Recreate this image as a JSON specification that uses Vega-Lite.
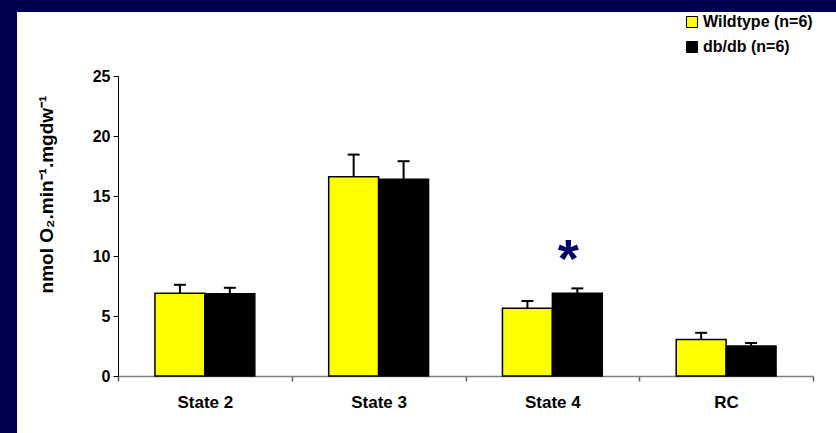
{
  "$schema": "https://vega.github.io/schema/vega-lite/v6.json",
  "width": 819,
  "height": 421,
  "autosize": {"type": "none"},
  "padding": {"left": 17, "top": 12, "right": 0, "bottom": 0},
  "background": "#000050",
  "config": {"view": {"fill": "white", "stroke": null}, "font": "Liberation Sans"},
  "data": {"values": [
    {"cat": "State 2", "group": "Wildtype (n=6)", "mean": 6.9, "upper": 7.6},
    {"cat": "State 2", "group": "db/db (n=6)", "mean": 6.85, "upper": 7.35},
    {"cat": "State 3", "group": "Wildtype (n=6)", "mean": 16.6, "upper": 18.45},
    {"cat": "State 3", "group": "db/db (n=6)", "mean": 16.4, "upper": 17.9},
    {"cat": "State 4", "group": "Wildtype (n=6)", "mean": 5.65, "upper": 6.25},
    {"cat": "State 4", "group": "db/db (n=6)", "mean": 6.9, "upper": 7.3},
    {"cat": "RC", "group": "Wildtype (n=6)", "mean": 3.05, "upper": 3.6},
    {"cat": "RC", "group": "db/db (n=6)", "mean": 2.5, "upper": 2.75}
  ]},
  "encoding": {
    "x": {
      "field": "cat", "type": "nominal",
      "sort": ["State 2", "State 3", "State 4", "RC"],
      "scale": {"range": [101, 796], "paddingInner": 0, "paddingOuter": 0},
      "axis": {
        "title": null, "labelAngle": 0, "labelFont": "Liberation Sans", "labelFontWeight": "bold",
        "labelFontSize": 17, "labelColor": "black", "domainColor": "#808080", "domainWidth": 1.5,
        "tickColor": "#606060", "tickSize": 5, "tickWidth": 1.5, "tickBand": "extent", "labelPadding": 13,
        "offset": -57, "grid": false
      }
    },
    "xOffset": {
      "field": "group", "type": "nominal",
      "sort": ["Wildtype (n=6)", "db/db (n=6)"],
      "scale": {"paddingInner": 0, "paddingOuter": 0.74}
    }
  },
  "layer": [
    {
      "mark": {"type": "bar", "stroke": "black", "strokeWidth": 1.5},
      "encoding": {
        "y": {
          "field": "mean", "type": "quantitative",
          "scale": {"domain": [0, 25], "range": [364, 64], "nice": false, "zero": true},
          "axis": {
            "title": "nmol O₂.min⁻¹.mgdw⁻¹", "titleFont": "Liberation Sans", "titleFontSize": 19,
            "titleFontWeight": "bold", "titleColor": "black", "titleX": -72, "titleY": 182,
            "titleAngle": -90, "titleAlign": "center", "titleBaseline": "middle",
            "values": [0, 5, 10, 15, 20, 25], "labelFont": "Liberation Sans", "labelFontSize": 16,
            "labelFontWeight": "bold", "labelColor": "black", "domainColor": "black", "domainWidth": 1,
            "tickColor": "black", "tickSize": 5, "labelPadding": 3, "offset": -101, "grid": false
          }
        },
        "color": {
          "field": "group", "type": "nominal",
          "scale": {"domain": ["Wildtype (n=6)", "db/db (n=6)"], "range": ["#FFFF00", "#000000"]},
          "legend": {
            "orient": "none", "legendX": 667, "legendY": 2, "title": null,
            "symbolType": "square", "symbolSize": 121, "symbolStrokeColor": "black",
            "symbolStrokeWidth": 1, "symbolOpacity": 1, "labelFont": "Liberation Sans", "labelFontSize": 16,
            "labelFontWeight": "bold", "labelColor": "black", "labelOffset": 3,
            "rowPadding": 9, "padding": 0
          }
        }
      }
    },
    {
      "mark": {"type": "rule", "strokeWidth": 2, "color": "black"},
      "encoding": {
        "y": {"field": "mean", "type": "quantitative"},
        "y2": {"field": "upper"}
      }
    },
    {
      "mark": {"type": "tick", "size": 12, "thickness": 2, "color": "black", "opacity": 1},
      "encoding": {
        "y": {"field": "upper", "type": "quantitative"}
      }
    },
    {
      "data": {"values": [{"cat": "State 4", "group": "db/db (n=6)", "pos": 9.6, "label": "*"}]},
      "mark": {"type": "text", "font": "Liberation Sans", "fontWeight": "bold", "fontSize": 54, "color": "#000066", "dx": -9, "baseline": "middle"},
      "encoding": {
        "y": {"field": "pos", "type": "quantitative"},
        "text": {"field": "label"}
      }
    }
  ]
}
